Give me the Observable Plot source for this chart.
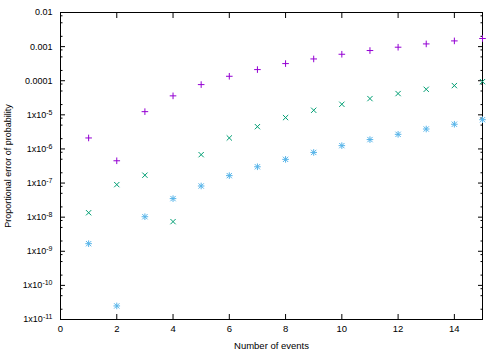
<!DOCTYPE html>
<html><head><meta charset="utf-8">
<script src="https://cdn.jsdelivr.net/npm/d3@7"></script>
<script src="https://cdn.jsdelivr.net/npm/@observablehq/plot@0.6"></script>
<style>body{margin:0;background:#fff} svg{display:block}</style>
</head><body><div id="chart"></div>
<script>
const events = [1,2,3,4,5,6,7,8,9,10,11,12,13,14,15];
const seriesPlus = [2.1e-6,4.5e-7,1.24e-5,3.6e-5,7.7e-5,1.35e-4,2.12e-4,3.18e-4,4.35e-4,5.97e-4,7.67e-4,9.6e-4,1.2e-3,1.47e-3,1.73e-3];
const seriesTimes = [1.35e-8,9.0e-8,1.7e-7,7.4e-9,6.8e-7,2.1e-6,4.5e-6,8.3e-6,1.36e-5,2.04e-5,2.99e-5,4.2e-5,5.6e-5,7.2e-5,9.4e-5];
const seriesStar = [1.67e-9,2.5e-11,1.03e-8,3.5e-8,8.2e-8,1.65e-7,3.0e-7,4.95e-7,7.9e-7,1.25e-6,1.88e-6,2.68e-6,3.84e-6,5.3e-6,7.2e-6];
const xTicks = [0,2,4,6,8,10,12,14];
const yTicks = [1e-11,1e-10,1e-9,1e-8,1e-7,1e-6,1e-5,1e-4,1e-3,1e-2];
const yTickLabels = ["1x10^-11","1x10^-10","1x10^-9","1x10^-8","1x10^-7","1x10^-6","1x10^-5","0.0001","0.001","0.01"];
const yMinorMult = [2,5,8];
const yMinor = yTicks.slice(0,-1).flatMap(t => yMinorMult.map(k => t*k));

const plusSym = {draw(c, s){const r=Math.sqrt(s/Math.PI); c.moveTo(-r,0);c.lineTo(r,0);c.moveTo(0,-r);c.lineTo(0,r);}};
const timesSym = {draw(c, s){const r=Math.sqrt(s/Math.PI)*0.8; c.moveTo(-r,-r);c.lineTo(r,r);c.moveTo(-r,r);c.lineTo(r,-r);}};
const starSym = {draw(c, s){plusSym.draw(c,s); timesSym.draw(c,s);}};

const mk = (vals) => events.map((x,i) => ({x, y: vals[i]}));

const chart = Plot.plot({
  width: 500, height: 350,
  marginLeft: 60, marginRight: 18, marginTop: 12, marginBottom: 31,
  style: {fontFamily: "'Liberation Sans', Arial, sans-serif", fontSize: "9px", color: "#000", background: "#fff"},
  x: {domain: [0, 15]},
  y: {type: "log", domain: [1e-11, 1e-2]},
  marks: [
    Plot.axisX({ticks: xTicks, tickSize: 0, tickPadding: 6, tickFormat: d => String(d),
      label: "Number of events", labelAnchor: "center", labelArrow: "none", labelOffset: 29, fontSize: 9.5}),
    Plot.axisX({ticks: xTicks, tickSize: -5, tickFormat: () => "", label: null}),
    Plot.axisX({anchor: "top", ticks: xTicks, tickSize: -5, tickFormat: () => "", label: null}),
    Plot.axisY({ticks: yTicks, tickSize: 0, tickPadding: 8, tickFormat: d => yTickLabels[yTicks.indexOf(d)] ?? "",
      label: "Proportional error of probability", labelAnchor: "center", labelArrow: "none", labelOffset: 56, fontSize: 9}),
    Plot.axisY({ticks: yTicks, tickSize: -5, tickFormat: () => "", label: null}),
    Plot.axisY({ticks: yMinor, tickSize: -2.5, tickFormat: () => "", label: null}),
    Plot.axisY({anchor: "right", ticks: yTicks, tickSize: -5, tickFormat: () => "", label: null}),
    Plot.axisY({anchor: "right", ticks: yMinor, tickSize: -2.5, tickFormat: () => "", label: null}),
    Plot.frame({stroke: "#000"}),
    Plot.dot(mk(seriesPlus), {x: "x", y: "y", symbol: plusSym, r: 3.3, stroke: "#9400d3", fill: "none", strokeWidth: 1}),
    Plot.dot(mk(seriesTimes), {x: "x", y: "y", symbol: timesSym, r: 3.3, stroke: "#009e73", fill: "none", strokeWidth: 1}),
    Plot.dot(mk(seriesStar), {x: "x", y: "y", symbol: starSym, r: 3.3, stroke: "#56b4e9", fill: "none", strokeWidth: 1})
  ]
});

chart.querySelectorAll('g[aria-label="y-axis tick label"] text').forEach(t => {
  const s = t.textContent;
  if (s.includes("^")) {
    const [base, exp] = s.split("^");
    while (t.firstChild) t.removeChild(t.firstChild);
    const ns = "http://www.w3.org/2000/svg";
    const a = document.createElementNS(ns, "tspan"); a.textContent = base;
    const b = document.createElementNS(ns, "tspan"); b.textContent = exp;
    b.setAttribute("dy", "-0.45em"); b.setAttribute("font-size", "7");
    t.appendChild(a); t.appendChild(b);
  }
});

document.getElementById("chart").appendChild(chart);
</script>
</body></html>
